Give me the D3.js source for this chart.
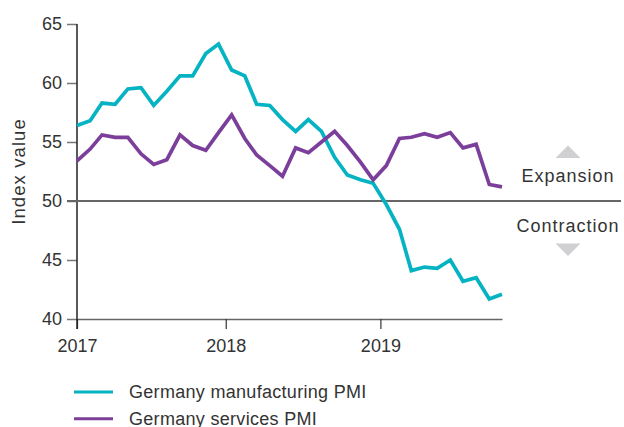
<!DOCTYPE html>
<html>
<head>
<meta charset="utf-8">
<script src="https://cdn.jsdelivr.net/npm/d3@7"></script>
<style>
  body { margin: 0; background: #fff; }
  svg text { font-family: "Liberation Sans", Arial, sans-serif; fill: #333; }
</style>
</head>
<body>
<div id="chart"></div>
<script>
// monthly PMI readings, Jan 2017 - Oct 2019 (plotted mid-month)
var months = ['2017-01','2017-02','2017-03','2017-04','2017-05','2017-06','2017-07','2017-08','2017-09','2017-10','2017-11','2017-12',
              '2018-01','2018-02','2018-03','2018-04','2018-05','2018-06','2018-07','2018-08','2018-09','2018-10','2018-11','2018-12',
              '2019-01','2019-02','2019-03','2019-04','2019-05','2019-06','2019-07','2019-08','2019-09','2019-10'];
var manufacturing = [56.4,56.8,58.3,58.2,59.5,59.6,58.1,59.3,60.6,60.6,62.5,63.3,
                     61.1,60.6,58.2,58.1,56.9,55.9,56.9,55.9,53.7,52.2,51.8,51.5,
                     49.7,47.6,44.1,44.4,44.3,45.0,43.2,43.5,41.7,42.1];
var services = [53.4,54.4,55.6,55.4,55.4,54.0,53.1,53.5,55.6,54.7,54.3,55.8,
                57.3,55.3,53.9,53.0,52.1,54.5,54.1,55.0,55.9,54.7,53.3,51.8,
                53.0,55.3,55.4,55.7,55.4,55.8,54.5,54.8,51.4,51.2];
var yTicks = [40,45,50,55,60,65];
var yearTicks = ['2017','2018','2019'];
var seriesNames = ['Germany manufacturing PMI','Germany services PMI'];
var colours = ['#05b3c2','#7b3f9b'];

var parseMonth = d3.timeParse('%Y-%m-%d');
var dates = months.map(m => parseMonth(m + '-15'));

var margin = { top: 24, right: 122, bottom: 108, left: 77 },
    width = 624 - margin.left - margin.right,
    height = 427 - margin.top - margin.bottom;

var svg = d3.select('#chart').append('svg')
    .attr('width', 624)
    .attr('height', 427)
  .append('g')
    .attr('transform', 'translate(' + margin.left + ',' + margin.top + ')');

var x = d3.scaleTime()
    .domain(d3.extent(dates))
    .range([0, width]);

var y = d3.scaleLinear()
    .domain([40, 65])
    .range([height, 0]);

// y axis ticks and labels
var yAxis = svg.append('g')
    .call(d3.axisLeft(y).tickValues(yTicks).tickSize(10).tickSizeOuter(0).tickPadding(5));
yAxis.select('.domain').remove();
yAxis.selectAll('line').attr('stroke', '#777').attr('stroke-width', 1.5);
yAxis.selectAll('text').style('font-size', '18px').attr('fill', '#333');

// x axis
var xTickDates = [x.domain()[0], parseMonth('2018-01-01'), parseMonth('2019-01-01')];
var xAxis = svg.append('g')
    .attr('transform', `translate(0,${height})`)
    .call(d3.axisBottom(x).tickValues(xTickDates).tickSize(10).tickSizeOuter(0).tickPadding(10)
        .tickFormat((d, i) => yearTicks[i]));
xAxis.select('.domain').attr('stroke', '#666').attr('stroke-width', 1.5);
xAxis.selectAll('line').attr('stroke', '#333').attr('stroke-width', 1.2);
xAxis.selectAll('text').style('font-size', '18px').attr('fill', '#333');

// y axis line
svg.append('line')
    .attr('x1', 0).attr('x2', 0)
    .attr('y1', y(65)).attr('y2', height + 10)
    .attr('stroke', '#222').attr('stroke-width', 1.5);

// 50 threshold line
svg.append('line')
    .attr('x1', -10).attr('x2', 624 - margin.left - 3)
    .attr('y1', y(50)).attr('y2', y(50))
    .attr('stroke', '#666').attr('stroke-width', 2);

svg.append('text')
    .attr('transform', `translate(-52,${(y(65) + y(40)) / 2})`+ ' rotate(-90)')
    .attr('text-anchor', 'middle')
    .style('font-size', '18.5px')
    .style('letter-spacing', '1.1px')
    .text('Index value');

// lines
var line = d3.line()
    .x((d, i) => x(dates[i]))
    .y(d => y(d));

[manufacturing, services].forEach(function (series, i) {
    svg.append('path')
        .datum(series)
        .attr('d', line)
        .attr('fill', 'none')
        .attr('stroke', colours[i])
        .attr('stroke-width', 3.7);
});

// expansion / contraction annotation
var annX = 568 - margin.left;
svg.append('text')
    .attr('x', annX).attr('y', y(50) - 19)
    .attr('text-anchor', 'middle')
    .style('font-size', '18px')
    .style('letter-spacing', '1px')
    .text('Expansion');
svg.append('text')
    .attr('x', annX).attr('y', y(50) + 31)
    .attr('text-anchor', 'middle')
    .style('font-size', '18px')
    .style('letter-spacing', '1px')
    .text('Contraction');
svg.append('path')
    .attr('d', `M${annX - 12.5},${y(50) - 43} L${annX},${y(50) - 55.5} L${annX + 12.5},${y(50) - 43} Z`)
    .attr('fill', '#d0d0d3');
svg.append('path')
    .attr('d', `M${annX - 12.5},${y(50) + 42.5} L${annX},${y(50) + 55} L${annX + 12.5},${y(50) + 42.5} Z`)
    .attr('fill', '#d0d0d3');

// legend
var legend = svg.append('g')
    .attr('transform', `translate(-3,${height + 73})`);
seriesNames.forEach(function (name, i) {
    var g = legend.append('g').attr('transform', `translate(0,${i * 26.7})`);
    g.append('line')
        .attr('x1', 0).attr('x2', 39)
        .attr('y1', 0).attr('y2', 0)
        .attr('stroke', colours[i])
        .attr('stroke-width', 3);
    g.append('text')
        .attr('x', 55).attr('y', 6)
        .style('font-size', '18px')
        .style('letter-spacing', '0.3px')
        .text(name);
});
</script>
</body>
</html>
